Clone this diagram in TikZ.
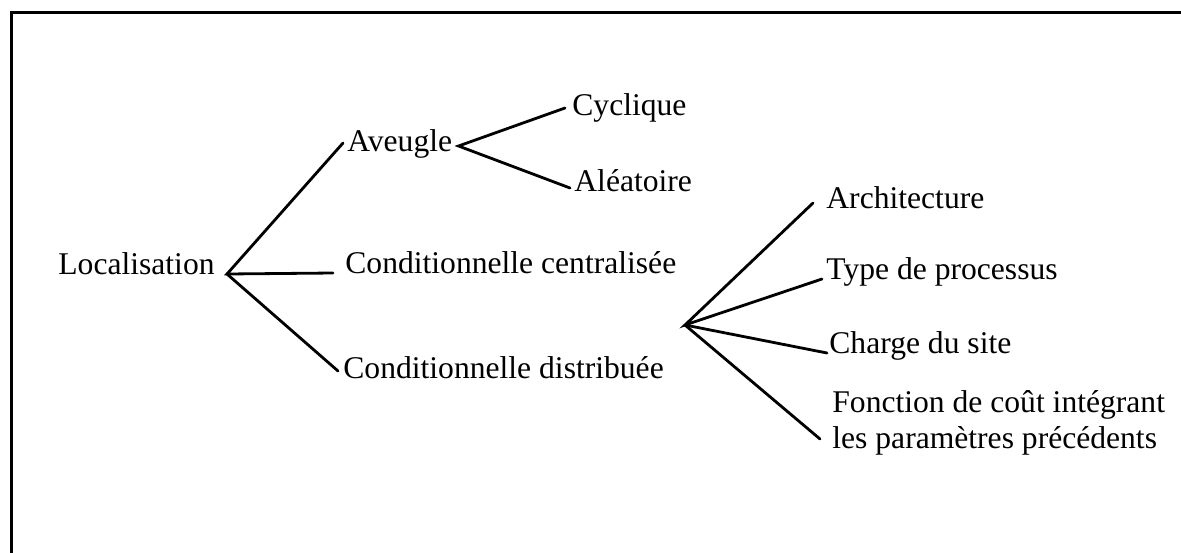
\documentclass[tikz,border=0pt]{standalone}
\usepackage{fontspec}
\setmainfont{Liberation Serif}
\begin{document}
\begin{tikzpicture}[x=0.5pt,y=-0.5pt,
  lbl/.style={anchor=base west, inner sep=0pt, font=\fontsize{15.8}{17.6}\selectfont},
  branch/.style={line width=1.4pt, line cap=round},
  frame/.style={line width=1.5pt}]
\useasboundingbox (0,0) rectangle (1181,552);
% open frame: left and top edges only
\draw[frame] (11,560) -- (11,12) -- (1190,12);

% labels
\node[lbl] (loc) at (58,274) {Localisation};
\node[lbl] (ave) at (347,151) {Aveugle};
\node[lbl] (cyc) at (572,115) {Cyclique};
\node[lbl] (ale) at (574,191) {Aléatoire};
\node[lbl] (cen) at (345,273) {Conditionnelle centralisée};
\node[lbl] (dis) at (343,378) {Conditionnelle distribuée};
\node[lbl] (arc) at (826,208) {Architecture};
\node[lbl] (typ) at (826,279) {Type de processus};
\node[lbl] (cha) at (829,353) {Charge du site};
% two-line label: its base anchor sits on the last line
\node[lbl, align=left] (fon) at (832,448) {Fonction de coût intégrant\\les paramètres précédents};

% branching points
\coordinate (root) at ([xshift=6pt]loc.base east);
\coordinate (avev) at ([xshift=3pt,yshift=2.5pt]ave.base east);
\coordinate (disv) at (685,325);

% branches
\draw[branch] ([xshift=-2pt,yshift=4pt]ave.base west) -- (root)
  -- ([xshift=-6pt]cen.base west);
\draw[branch] (root) -- ([xshift=-2.5pt,yshift=3.5pt]dis.base west);
\draw[branch] ([xshift=-3.5pt,yshift=3.5pt]cyc.base west) -- (avev)
  -- ([xshift=-2pt,yshift=1.5pt]ale.base west);
\draw[branch] ([xshift=-6.5pt,yshift=2.5pt]arc.base west) -- (disv)
  -- ([xshift=-2pt]typ.base west);
\draw[branch] (disv) -- ([xshift=-1pt]cha.base west);
\draw[branch] (disv) -- ([xshift=-6pt,yshift=4.5pt]fon.base west);
\end{tikzpicture}
\end{document}
